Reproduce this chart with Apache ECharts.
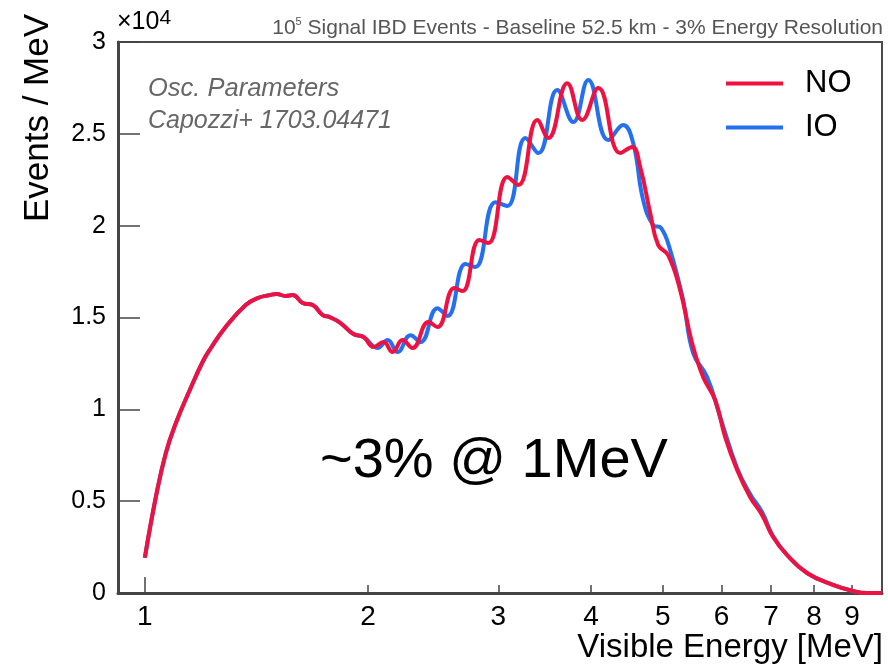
<!DOCTYPE html>
<html><head><meta charset="utf-8">
<script src="https://cdn.jsdelivr.net/npm/echarts@6/dist/echarts.min.js"></script>
<style>html,body{margin:0;padding:0;background:#fff}#c{width:888px;height:668px}</style>
</head><body><div id="c"></div>
<script>
// Visible energy [MeV] and events per MeV (units of 10^4)
const noEnergy = [1.000,1.035,1.067,1.101,1.150,1.197,1.228,1.286,1.368,1.420,1.474,1.506,1.549,1.583,1.633,1.685,1.738,1.776,1.837,1.912,1.973,2.035,2.099,2.159,2.227,2.297,2.414,2.482,2.617,2.683,2.828,2.908,3.085,3.192,3.386,3.503,3.716,3.893,4.092,4.381,4.546,4.661,4.808,4.929,5.084,5.277,5.476,5.667,5.883,6.069,6.299,6.557,6.806,7.042,7.355,7.826,8.483,9.027,9.428,9.877];
const noEvents = [0.192,0.524,0.760,0.924,1.105,1.259,1.334,1.450,1.568,1.606,1.622,1.628,1.617,1.622,1.579,1.568,1.513,1.502,1.470,1.410,1.394,1.339,1.366,1.312,1.377,1.334,1.475,1.448,1.660,1.644,1.922,1.905,2.265,2.221,2.575,2.477,2.776,2.575,2.749,2.395,2.428,2.319,2.069,1.894,1.840,1.649,1.361,1.176,1.051,0.849,0.670,0.523,0.425,0.305,0.207,0.109,0.044,0.011,0.000,0.000];
const ioEnergy = [1.000,1.035,1.067,1.101,1.150,1.197,1.228,1.286,1.368,1.420,1.474,1.506,1.549,1.583,1.633,1.685,1.738,1.776,1.837,1.912,1.973,2.061,2.126,2.193,2.283,2.355,2.482,2.561,2.708,2.793,2.972,3.085,3.263,3.396,3.602,3.786,3.966,4.221,4.422,4.560,4.704,4.853,4.975,5.116,5.326,5.494,5.738,5.976,6.299,6.557,6.806,7.042,7.355,7.826,8.483,9.027,9.428,9.877];
const ioEvents = [0.192,0.524,0.760,0.924,1.105,1.259,1.334,1.450,1.568,1.606,1.622,1.628,1.617,1.622,1.579,1.568,1.513,1.502,1.470,1.410,1.394,1.334,1.377,1.312,1.404,1.366,1.551,1.508,1.791,1.775,2.128,2.107,2.477,2.395,2.738,2.564,2.793,2.466,2.548,2.450,2.139,2.003,1.987,1.867,1.595,1.306,1.176,0.958,0.680,0.539,0.441,0.310,0.207,0.109,0.044,0.011,0.000,0.000];
const xTickValues = [1,2,3,4,5,6,7,8,9];
const xMajorTicks = [1];
const yMin = 0, yMax = 3, yStep = 0.5;
const seriesNames = ['NO','IO'];

const FONT = '"Liberation Sans", Arial, Helvetica, sans-serif';
const RED = '#ef1240';
const BLUE = '#2470f0';

const chart = echarts.init(document.getElementById('c'));
const toPairs = (xs, ys) => xs.map((x, i) => [x, ys[i]]);

const option = {
  animation: false,
  backgroundColor: '#ffffff',
  grid: {left: 118, right: 6, top: 42, bottom: 75, show: true, borderColor: '#4a4a4a', borderWidth: 2,
         containLabel: false, outerBoundsMode: 'none'},
  legend: {
    data: seriesNames, orient: 'vertical', left: 726, top: 68, padding: 0,
    icon: 'rect', itemWidth: 57, itemHeight: 4, itemGap: 13,
    textStyle: {fontSize: 31, color: '#000', fontFamily: FONT, padding: [0, 0, 0, 17]}
  },
  xAxis: [{
    type: 'log', logBase: 10, min: 0.92, max: 9.88,
    axisLine: {show: true, onZero: false, lineStyle: {color: '#444', width: 3}},
    axisTick: {show: true, inside: true, length: 8, customValues: xTickValues.slice(1), lineStyle: {color: '#444', width: 1.5}},
    axisLabel: {customValues: xTickValues, fontSize: 28, color: '#000', margin: 10, fontFamily: FONT,
                formatter: v => String(Math.round(v))},
    splitLine: {show: false}, minorTick: {show: false}
  }, {
    type: 'log', logBase: 10, min: 0.92, max: 9.88, position: 'bottom',
    axisLine: {show: false},
    axisTick: {show: true, inside: true, length: 16, customValues: xMajorTicks, lineStyle: {color: '#444', width: 1.5}},
    axisLabel: {show: false}, splitLine: {show: false}
  }],
  yAxis: {
    type: 'value', min: yMin, max: yMax, interval: yStep,
    axisLine: {show: true, onZero: false, lineStyle: {color: '#444', width: 3}},
    axisTick: {show: true, inside: true, length: 22, lineStyle: {color: '#444', width: 1.5}},
    axisLabel: {fontSize: 25, color: '#000', margin: 12, fontFamily: FONT},
    splitLine: {show: false}
  },
  series: [{
    name: 'IO', type: 'line', xAxisIndex: 0, data: toPairs(ioEnergy, ioEvents),
    smooth: 0.45, showSymbol: false, lineStyle: {color: BLUE, width: 4}, itemStyle: {color: BLUE}, z: 2
  }, {
    name: 'NO', type: 'line', xAxisIndex: 0, data: toPairs(noEnergy, noEvents),
    smooth: 0.45, showSymbol: false, lineStyle: {color: RED, width: 4}, itemStyle: {color: RED}, z: 3
  }],
  graphic: [
    {type: 'text', x: 883, y: 28, style: {text: '{a|10}{s|5}{a| Signal IBD Events - Baseline 52.5 km - 3% Energy Resolution}',
      align: 'right', verticalAlign: 'middle',
      rich: {a: {fontSize: 21, fontFamily: FONT, fill: '#555', lineHeight: 23},
             s: {fontSize: 11, fontFamily: FONT, fill: '#555', lineHeight: 13, verticalAlign: 'top'}}}},
    {type: 'text', x: 117, y: 22, style: {text: '{a|×10}{s|4}', align: 'left', verticalAlign: 'middle',
      rich: {a: {fontSize: 25, fontFamily: FONT, fill: '#000', lineHeight: 28},
             s: {fontSize: 21, fontFamily: FONT, fill: '#000', lineHeight: 19, verticalAlign: 'top'}}}},
    {type: 'text', x: 148, y: 89, style: {text: 'Osc. Parameters', font: 'italic 25.5px ' + FONT, fill: '#666', verticalAlign: 'middle'}},
    {type: 'text', x: 148, y: 121, style: {text: 'Capozzi+ 1703.04471', font: 'italic 25px ' + FONT, fill: '#666', verticalAlign: 'middle'}},
    {type: 'text', x: 320, y: 462, style: {text: '~3% @ 1MeV', font: '56px ' + FONT, fill: '#000', verticalAlign: 'middle'}},
    {type: 'text', x: 883, y: 648, style: {text: 'Visible Energy [MeV]', font: '33px ' + FONT, fill: '#000', align: 'right', verticalAlign: 'middle'}},
    {type: 'text', x: 38, y: 118, rotation: Math.PI / 2, style: {text: 'Events / MeV', font: '35px ' + FONT, fill: '#000', align: 'center', verticalAlign: 'middle'}}
  ]
};
chart.setOption(option);
</script>
</body></html>
